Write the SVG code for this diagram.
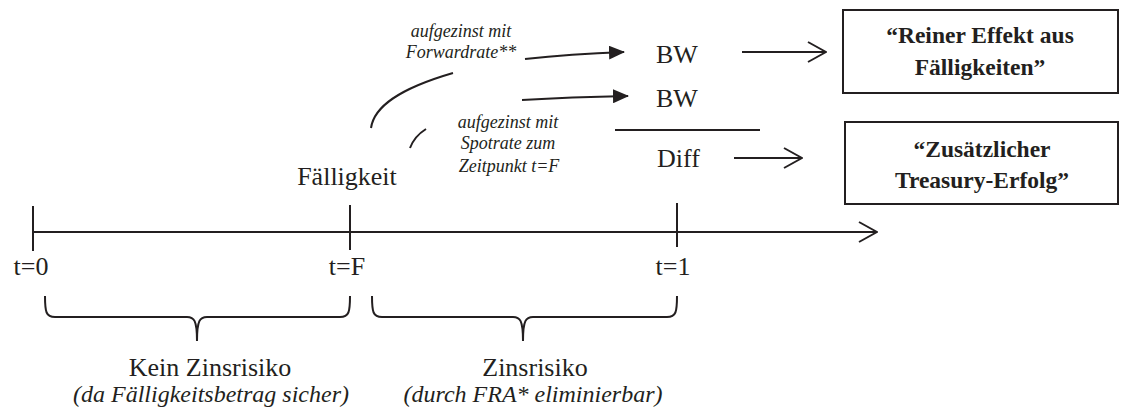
<svg xmlns="http://www.w3.org/2000/svg" width="1121" height="412" viewBox="0 0 1121 412">
<defs>
<style>
.t{font-family:"Liberation Serif","Times New Roman",serif;fill:#231f20}
.m{font-size:26px}
.i{font-size:18px;font-style:italic}
.ib{font-size:24px;font-style:italic}
.b{font-size:23.5px;font-weight:bold}
.ln{stroke:#231f20;fill:none;stroke-width:2}
.box{stroke:#231f20;fill:#fff;stroke-width:2}
</style>
<marker id="fa" viewBox="0 0 16 14" refX="15" refY="7" markerWidth="16" markerHeight="14" markerUnits="userSpaceOnUse" orient="auto">
<path d="M0,0 L16,7 L0,14 Z" fill="#231f20"/>
</marker>
<marker id="oa" viewBox="0 0 20 22" refX="19" refY="11" markerWidth="20" markerHeight="22" markerUnits="userSpaceOnUse" orient="auto">
<path d="M1,1 L19,11 L1,21" fill="none" stroke="#231f20" stroke-width="2"/>
</marker>
</defs>
<rect width="1121" height="412" fill="#fff"/>

<g id="connectors">
<line class="ln" x1="34" y1="232" x2="877" y2="232" marker-end="url(#oa)"/>
<line class="ln" x1="33" y1="206" x2="33" y2="251"/>
<line class="ln" x1="350" y1="205" x2="350" y2="250"/>
<line class="ln" x1="677" y1="203" x2="677" y2="247"/>
<path class="ln" d="M45,296 C45,312 46,317 55,317 L187,317 C194,317 197,320 197,341 C197,320 200,317 207,317 L340,317 C349,317 350,312 350,296"/>
<path class="ln" d="M372,296 C372,312 373,317 382,317 L513,317 C520,317 523,320 523,341 C523,320 526,317 533,317 L667,317 C676,317 677,312 677,296"/>
<path class="ln" stroke-width="2.5" d="M371,128 C374,107 398,89 453,73"/>
<path class="ln" stroke-width="2.5" d="M410,148 C413,140 418,134 426,129"/>
<path class="ln" stroke-width="2.5" d="M525,59 Q570,54 624,52" marker-end="url(#fa)"/>
<path class="ln" stroke-width="2.5" d="M522,100 Q570,97 628,96" marker-end="url(#fa)"/>
<line class="ln" x1="615" y1="130" x2="760" y2="130"/>
<line class="ln" x1="742" y1="52" x2="826" y2="52" marker-end="url(#oa)"/>
<line class="ln" x1="734" y1="158" x2="802" y2="158" marker-end="url(#oa)"/>
</g>

<g id="box-reiner">
<rect class="box" x="843" y="10" width="275" height="83"/>
<text class="t b" x="980" y="43" text-anchor="middle">“Reiner Effekt aus</text>
<text class="t b" x="980" y="75" text-anchor="middle">Fälligkeiten”</text>
</g>
<g id="box-zusaetzlich">
<rect class="box" x="845" y="122" width="273" height="82"/>
<text class="t b" x="982" y="157" text-anchor="middle">“Zusätzlicher</text>
<text class="t b" x="982" y="188" text-anchor="middle">Treasury-Erfolg”</text>
</g>

<g id="label-forward">
<text class="t i" x="461" y="37" text-anchor="middle">aufgezinst mit</text>
<text class="t i" x="461" y="58" text-anchor="middle">Forwardrate**</text>
</g>
<g id="label-spot">
<text class="t i" x="508" y="128" text-anchor="middle">aufgezinst mit</text>
<text class="t i" x="508" y="149" text-anchor="middle">Spotrate zum</text>
<text class="t i" x="509" y="172" text-anchor="middle">Zeitpunkt t=F</text>
</g>
<g id="bw1"><text class="t m" x="656" y="63">BW</text></g>
<g id="bw2"><text class="t m" x="656" y="107">BW</text></g>
<g id="diff"><text class="t m" x="657" y="167">Diff</text></g>
<g id="faelligkeit"><text class="t m" x="347" y="185" text-anchor="middle">Fälligkeit</text></g>
<g id="t0"><text class="t m" x="31" y="275" text-anchor="middle">t=0</text></g>
<g id="tF"><text class="t m" x="347" y="275" text-anchor="middle">t=F</text></g>
<g id="t1"><text class="t m" x="673" y="275" text-anchor="middle">t=1</text></g>
<g id="kein-zinsrisiko">
<text class="t m" x="210" y="376" text-anchor="middle">Kein Zinsrisiko</text>
<text class="t ib" x="211" y="402" text-anchor="middle">(da Fälligkeitsbetrag sicher)</text>
</g>
<g id="zinsrisiko">
<text class="t m" x="535" y="376" text-anchor="middle">Zinsrisiko</text>
<text class="t ib" x="533" y="402" text-anchor="middle">(durch FRA* eliminierbar)</text>
</g>
</svg>
